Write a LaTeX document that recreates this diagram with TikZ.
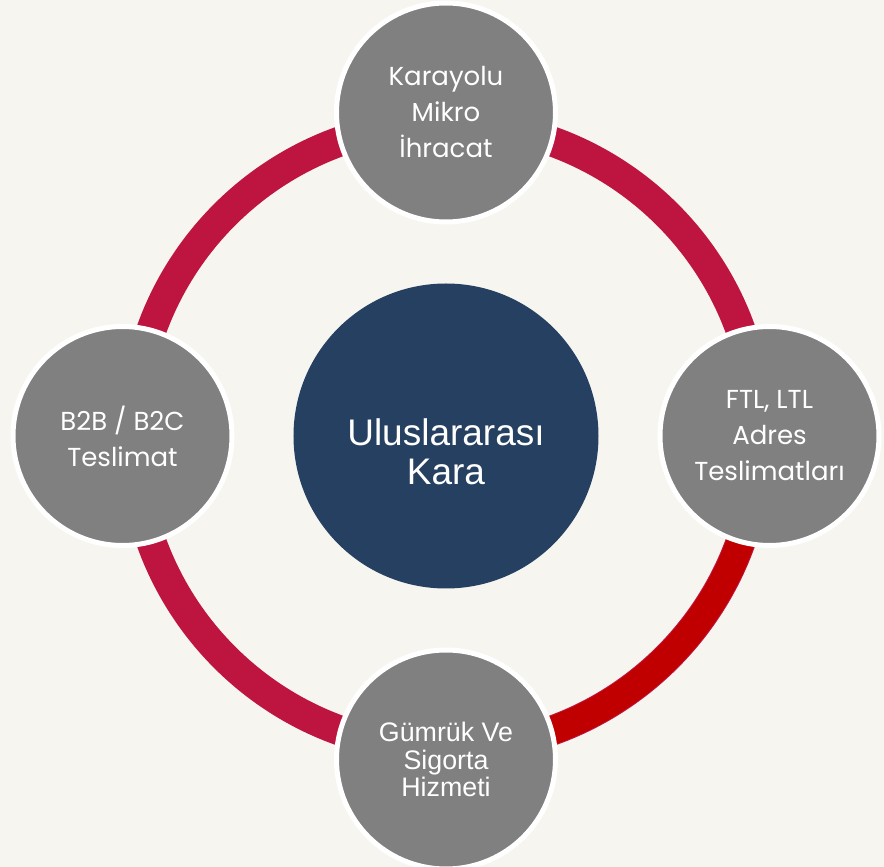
\documentclass[tikz,border=0pt]{standalone}
\usepackage{fontspec}
\newfontfamily\poppins{Poppins}
\newfontfamily\arial{Liberation Sans}
\usepackage{tikz}
\usetikzlibrary{shapes.geometric}
\definecolor{paper}{HTML}{F6F5F0}
\definecolor{crimson}{HTML}{BE1540}
\definecolor{deepred}{HTML}{C00000}
\definecolor{navy}{HTML}{254061}
\definecolor{stone}{HTML}{808080}
\tikzstyle{hub} = [circle, minimum size=305pt, inner sep=0pt, fill=navy]
\tikzstyle{hubtext} = [text centered, align=center, text=white, font=\arial\fontsize{37}{38.5}\selectfont]
\tikzstyle{service} = [circle, minimum size=219pt, inner sep=0pt, text centered, align=center, draw=white, line width=5pt, fill=stone, text=white, font=\poppins\fontsize{26}{36}\selectfont]
\tikzstyle{ring} = [line width=30pt, draw=crimson]
\tikzstyle{ringred} = [line width=28pt, draw=deepred]

\begin{document}
\begin{tikzpicture}[node distance=323.5pt]
        \fill [paper] (-446pt,-431pt) rectangle (438pt,436pt);
        \useasboundingbox (-446pt,-431pt) rectangle (438pt,436pt);
        \node (center) at (0,0) [hub] {};
        \node (title) at ([yshift=-16pt]center.center) [hubtext] {Uluslararası\\Kara};
        \draw [ring] (center) circle (313pt);
        \draw [ringred] ([shift={(0:313pt)}]center.center) arc (0:-90:313pt);
        \node (road) [service, above of=center] {Karayolu\\Mikro\\İhracat};
        \node (ftl) [service, right of=center] {FTL, LTL\\Adres\\Teslimatları};
        \node (customs) [service, below of=center, font=\arial\fontsize{26.8}{27.5}\selectfont] {Gümrük Ve\\Sigorta\\Hizmeti};
        \node (b2b) [service, left of=center] {B2B / B2C\\Teslimat};
    \end{tikzpicture}
\end{document}
